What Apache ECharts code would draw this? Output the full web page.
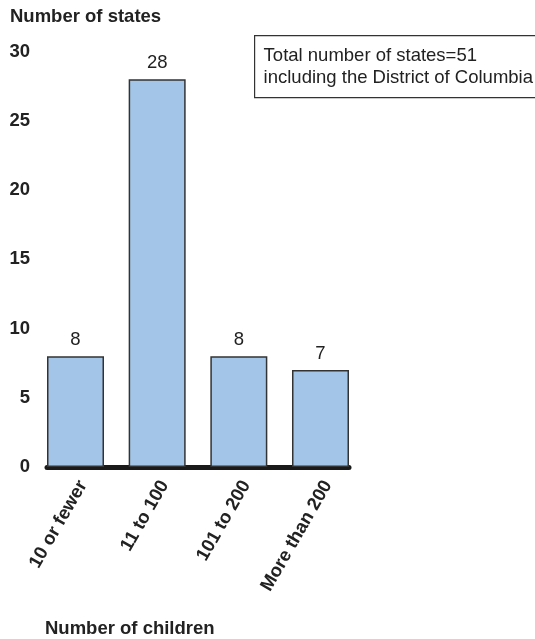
<!DOCTYPE html>
<html>
<head>
<meta charset="utf-8">
<style>
  html, body { margin: 0; padding: 0; background: #fff; }
  #chart { width: 535px; height: 639px; }
</style>
<script src="https://cdn.jsdelivr.net/npm/echarts@6/dist/echarts.min.js"></script>
</head>
<body>
<div id="chart"></div>
<script>
// Distribution of states by number of children
const categories = ['10 or fewer', '11 to 100', '101 to 200', 'More than 200'];
const stateCounts = [8, 28, 8, 7];
const yTicks = [0, 5, 10, 15, 20, 25, 30];
const noteLines = ['Total number of states=51', 'including the District of Columbia'];

const FONT = '"Liberation Sans", Arial, sans-serif';
const INK = '#222';
const SIZE = 18.5;

// Bars sit on a numeric x scale (category index), half a bar beyond each end
const halfBar = 0.349;
// Rotated labels hang slightly right of each bar centre
const labelNudge = 0.09;

const chart = echarts.init(document.getElementById('chart'), null, { renderer: 'canvas' });

chart.setOption({
  backgroundColor: '#fff',
  animation: false,
  textStyle: { fontFamily: FONT },
  title: [
    {
      text: 'Number of states',
      left: 10, top: 7, padding: 0,
      textStyle: { fontFamily: FONT, fontSize: SIZE, fontWeight: 'bold', color: INK }
    },
    {
      text: 'Number of children',
      left: 45, top: 619, padding: 0,
      textStyle: { fontFamily: FONT, fontSize: SIZE, fontWeight: 'bold', color: INK }
    }
  ],
  grid: { left: 47, right: 186, top: 51.5, bottom: 172, containLabel: false },
  xAxis: {
    type: 'value',
    min: -halfBar,
    max: categories.length - 1 + halfBar,
    splitLine: { show: false },
    axisTick: { show: false },
    axisLine: { show: true, onZero: true, lineStyle: { color: '#1a1a1a', width: 5 } },
    axisLabel: {
      customValues: categories.map((_, i) => i + labelNudge),
      formatter: v => categories[Math.round(v)],
      rotate: 60,
      margin: 15,
      fontFamily: FONT,
      fontSize: SIZE,
      fontWeight: 'bold',
      color: INK
    }
  },
  yAxis: {
    type: 'value',
    min: yTicks[0],
    max: yTicks[yTicks.length - 1],
    interval: 5,
    splitLine: { show: false },
    axisTick: { show: false },
    axisLine: { show: false },
    axisLabel: {
      margin: 17,
      fontFamily: FONT,
      fontSize: SIZE,
      fontWeight: 'bold',
      color: INK
    }
  },
  series: [
    {
      type: 'bar',
      data: stateCounts.map((v, i) => [i, v]),
      barWidth: 57,
      itemStyle: { color: '#a3c6e8', borderColor: '#333', borderWidth: 1.5 },
      label: {
        show: true,
        position: 'top',
        distance: 7,
        formatter: p => p.value[1],
        fontFamily: FONT,
        fontSize: SIZE,
        color: INK
      },
      z: 1
    }
  ],
  graphic: [
    {
      type: 'group',
      left: 254, top: 35,
      children: [
        {
          type: 'rect',
          shape: { x: 0, y: 0, width: 300, height: 62 },
          style: { fill: '#fff', stroke: '#333', lineWidth: 1.2 }
        },
        {
          type: 'text',
          x: 9, y: 9,
          style: {
            text: noteLines.join('\n'),
            fontFamily: FONT,
            fontSize: SIZE,
            lineHeight: 22,
            fill: INK
          }
        }
      ]
    }
  ]
});
</script>
</body>
</html>
